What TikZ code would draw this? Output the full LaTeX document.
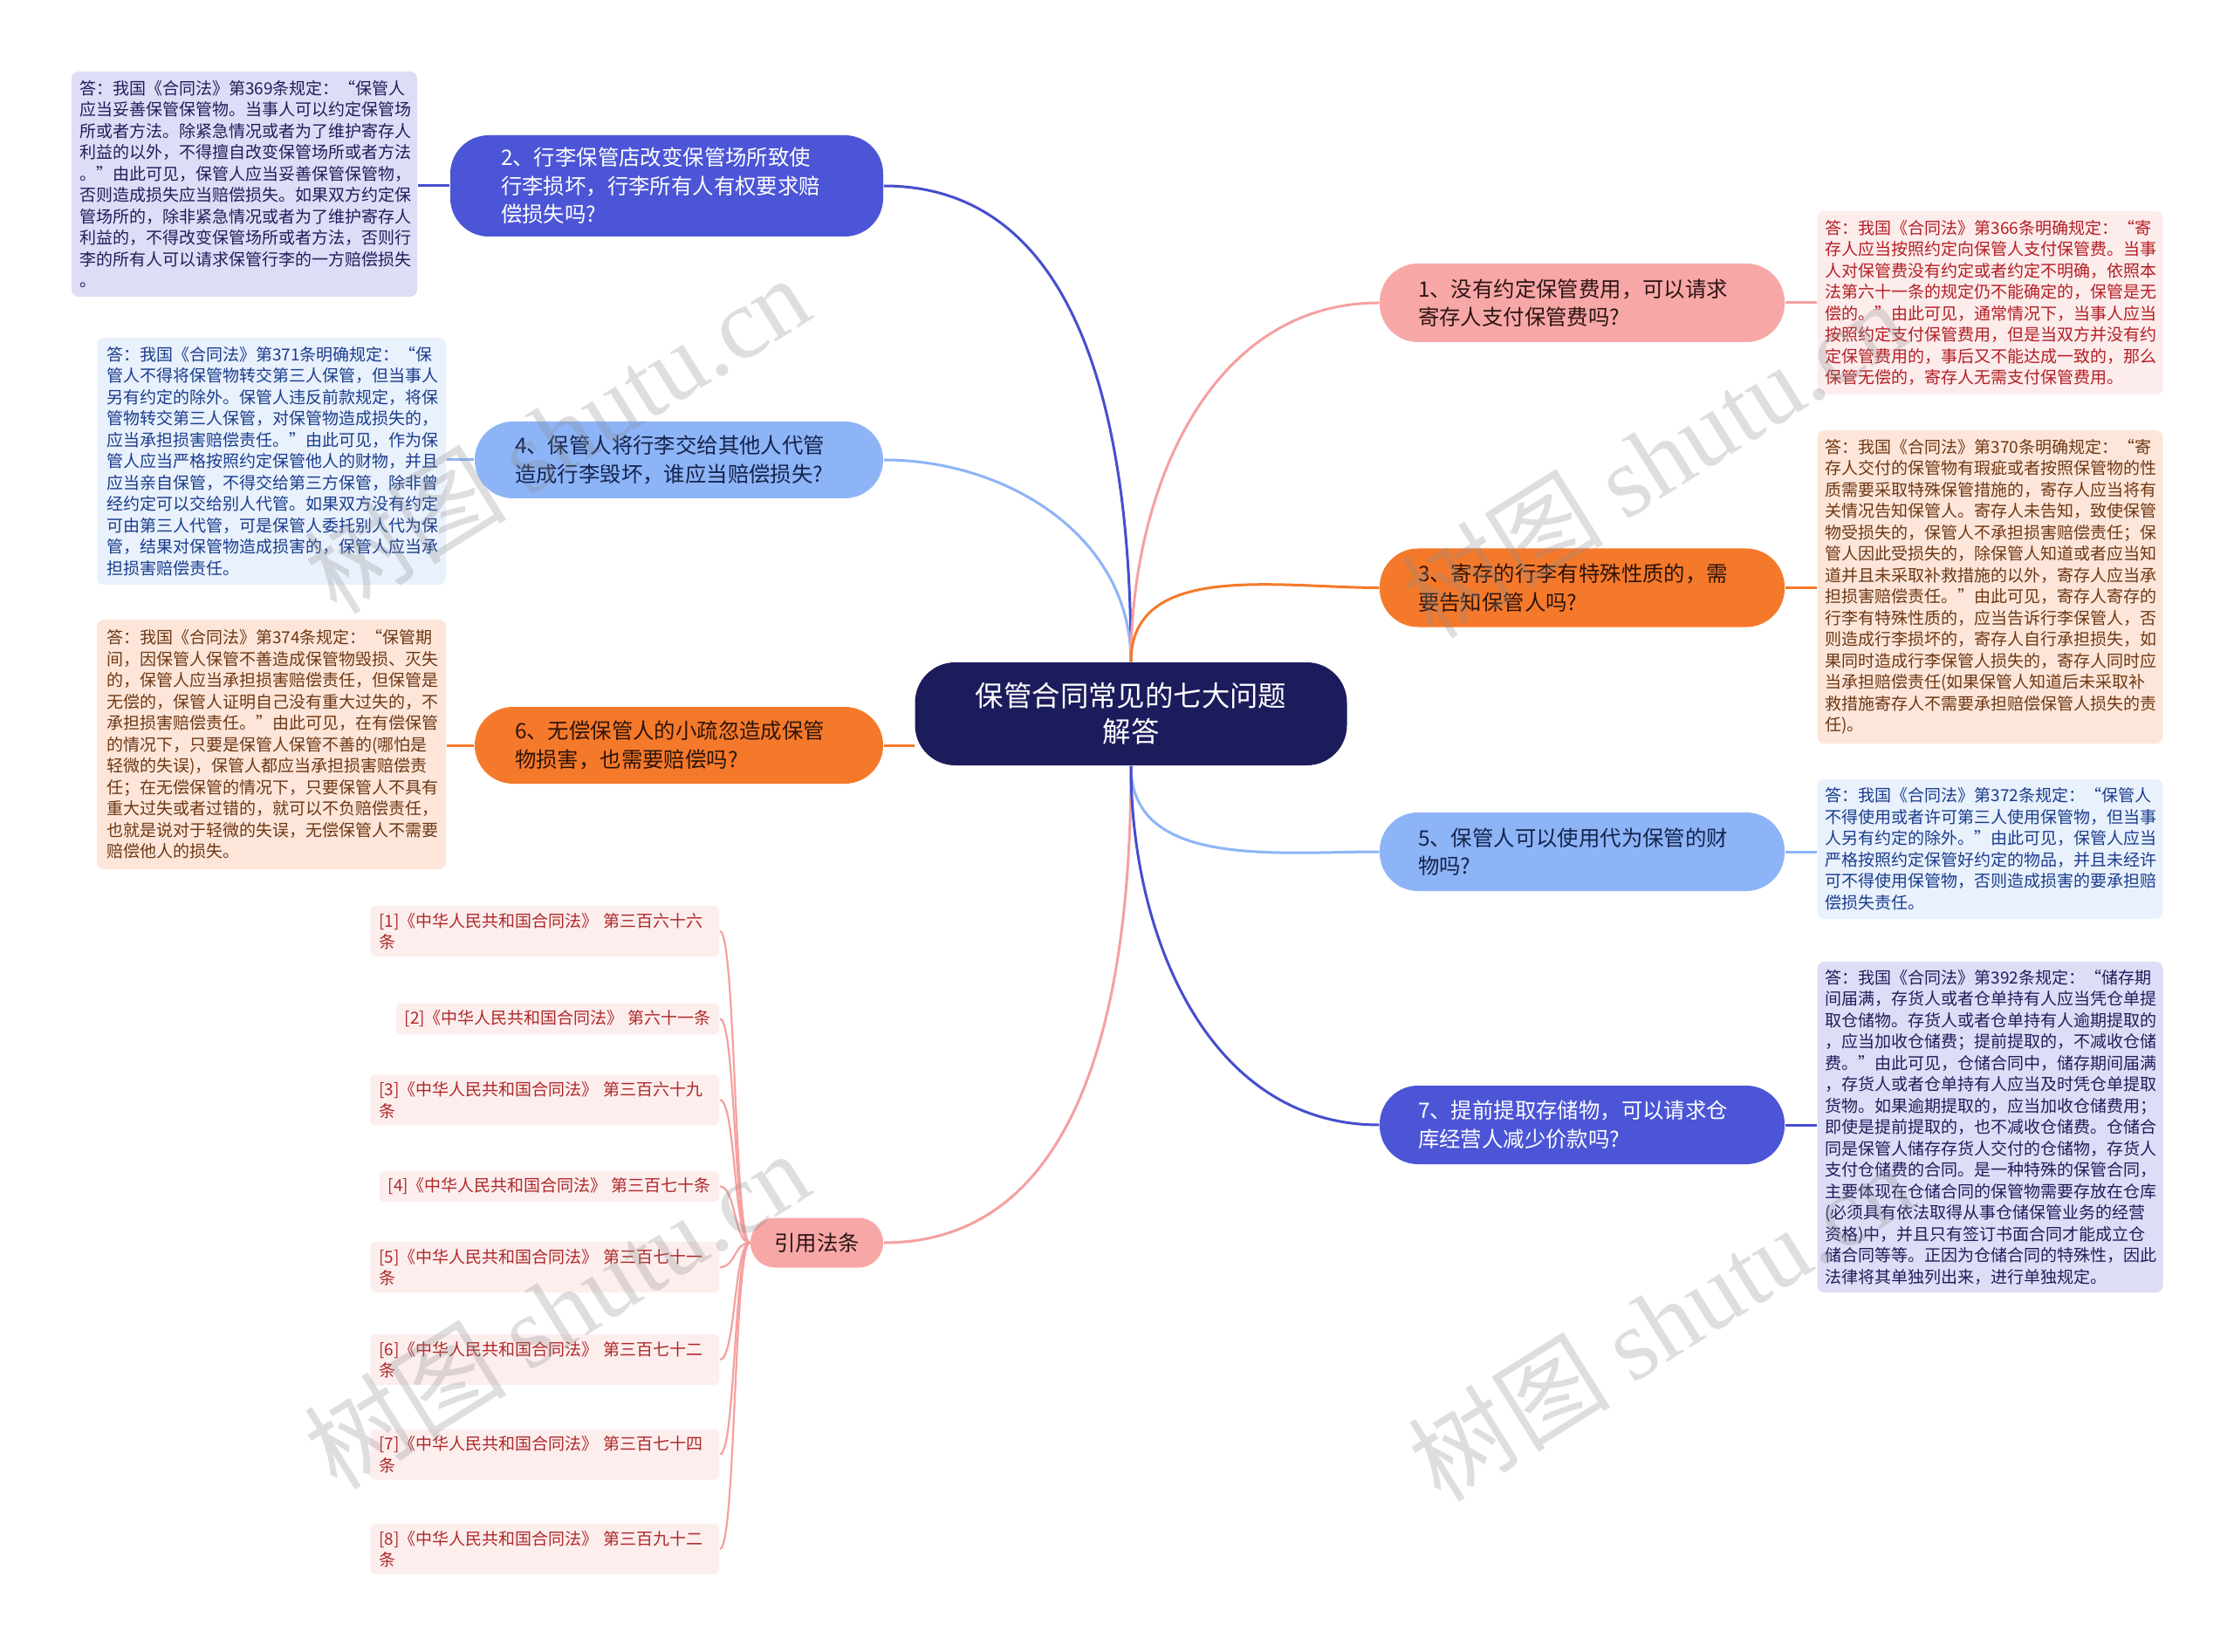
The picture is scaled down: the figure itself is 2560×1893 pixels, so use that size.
\documentclass[tikz,border=0pt]{standalone}
\usepackage{fontspec}
\setmainfont{Noto Sans CJK SC}
\newfontfamily\wmlatin{Liberation Serif}

\tikzset{every picture/.style={line width=0.75pt}}
\tikzset{
  hubnode/.style={fill={rgb, 255:red, 28; green, 28; blue, 92}, text=white, rounded corners=23pt, minimum width=247.5pt, minimum height=59pt, align=center, font=\fontsize{16.2}{20.5}\selectfont},
  branch/.style={rounded corners=22pt, minimum height=45pt, align=left, font=\fontsize{12.2}{16.3}\selectfont},
  answer/.style={rounded corners=4pt, inner xsep=4.5pt, inner ysep=3pt, text width=189pt, align=left, font=\fontsize{9.5}{12.25}\selectfont},
  citebox/.style={fill={rgb, 255:red, 253; green, 238; blue, 238}, text={rgb, 255:red, 175; green, 40; blue, 40}, rounded corners=3pt, inner xsep=5pt, inner ysep=4pt, anchor=east, align=left, font=\fontsize{9.5}{12.25}\selectfont},
  navyfill/.style={fill={rgb, 255:red, 75; green, 85; blue, 214}, text=white},
  bluefill/.style={fill={rgb, 255:red, 141; green, 180; blue, 247}, text={rgb, 255:red, 20; green, 35; blue, 75}},
  orangefill/.style={fill={rgb, 255:red, 245; green, 121; blue, 43}, text={rgb, 255:red, 45; green, 20; blue, 10}},
  pinkfill/.style={fill={rgb, 255:red, 248; green, 167; blue, 167}, text={rgb, 255:red, 45; green, 20; blue, 20}},
  navybox/.style={fill={rgb, 255:red, 221; green, 221; blue, 247}, text={rgb, 255:red, 30; green, 30; blue, 90}},
  bluebox/.style={fill={rgb, 255:red, 233; green, 241; blue, 253}, text={rgb, 255:red, 25; green, 60; blue, 140}},
  orangebox/.style={fill={rgb, 255:red, 253; green, 230; blue, 217}, text={rgb, 255:red, 110; green, 55; blue, 20}},
  pinkbox/.style={fill={rgb, 255:red, 253; green, 236; blue, 236}, text={rgb, 255:red, 180; green, 30; blue, 35}},
  navyline/.style={draw={rgb, 255:red, 70; green, 78; blue, 205}, line width=1.5pt},
  blueline/.style={draw={rgb, 255:red, 141; green, 180; blue, 247}, line width=1.5pt},
  orangeline/.style={draw={rgb, 255:red, 245; green, 121; blue, 43}, line width=1.5pt},
  pinkline/.style={draw={rgb, 255:red, 245; green, 160; blue, 160}, line width=1.5pt},
  citeline/.style={draw={rgb, 255:red, 245; green, 160; blue, 160}, line width=1.1pt},
  wmtext/.style={text={rgb, 255:red, 140; green, 140; blue, 140}, text opacity=0.28, rotate=32, font=\fontsize{58}{58}\selectfont}
}

\begin{document}
\begin{tikzpicture}[x=0.5pt,y=0.5pt,yscale=-1,xscale=1]
	%set diagram to 2560 x 1893
	\fill[white] (0,0) rectangle (2560,1893);
	\useasboundingbox (0,0) rectangle (2560,1893);

	% Text Node
	\node[hubnode] (hub) at (1296,818) {保管合同常见的七大问题\\解答};

	% Text Node
	\node[branch, navyfill, minimum height=58pt, inner xsep=29pt, text width=190pt] (b2) at (764,213) {2、行李保管店改变保管场所致使\\行李损坏，行李所有人有权要求赔\\偿损失吗?};
	% Text Node
	\node[branch, bluefill, minimum height=44pt, inner xsep=23pt, text width=188pt] (b4) at (778,527) {4、保管人将行李交给其他人代管\\造成行李毁坏，谁应当赔偿损失?};
	% Text Node
	\node[branch, orangefill, minimum height=44pt, inner xsep=23pt, text width=188pt] (b6) at (778,854) {6、无偿保管人的小疏忽造成保管\\物损害，也需要赔偿吗?};
	% Text Node
	\node[branch, pinkfill, rounded corners=14pt, minimum width=76pt, minimum height=28.5pt, align=center] (ref) at (936,1424) {引用法条};
	% Text Node
	\node[branch, pinkfill, inner xsep=22pt, text width=188pt] (b1) at (1813,347) {1、没有约定保管费用，可以请求\\寄存人支付保管费吗?};
	% Text Node
	\node[branch, orangefill, inner xsep=22pt, text width=188pt] (b3) at (1813,673.5) {3、寄存的行李有特殊性质的，需\\要告知保管人吗?};
	% Text Node
	\node[branch, bluefill, inner xsep=22pt, text width=188pt] (b5) at (1813,976) {5、保管人可以使用代为保管的财\\物吗?};
	% Text Node
	\node[branch, navyfill, inner xsep=22pt, text width=188pt] (b7) at (1813,1289) {7、提前提取存储物，可以请求仓\\库经营人减少价款吗?};

	% Text Node
	\node[answer, navybox, text width=189pt, minimum height=129pt] (a2) at (280,211) {答：我国《合同法》第369条规定：“保管人\\应当妥善保管保管物。当事人可以约定保管场\\所或者方法。除紧急情况或者为了维护寄存人\\利益的以外，不得擅自改变保管场所或者方法\\。”由此可见，保管人应当妥善保管保管物，\\否则造成损失应当赔偿损失。如果双方约定保\\管场所的，除非紧急情况或者为了维护寄存人\\利益的，不得改变保管场所或者方法，否则行\\李的所有人可以请求保管行李的一方赔偿损失\\。};
	% Text Node
	\node[answer, bluebox, inner xsep=5.5pt, minimum height=141.5pt] (a4) at (311,528.5) {答：我国《合同法》第371条明确规定：“保\\管人不得将保管物转交第三人保管，但当事人\\另有约定的除外。保管人违反前款规定，将保\\管物转交第三人保管，对保管物造成损失的，\\应当承担损害赔偿责任。”由此可见，作为保\\管人应当严格按照约定保管他人的财物，并且\\应当亲自保管，不得交给第三方保管，除非曾\\经约定可以交给别人代管。如果双方没有约定\\可由第三人代管，可是保管人委托别人代为保\\管，结果对保管物造成损害的，保管人应当承\\担损害赔偿责任。};
	% Text Node
	\node[answer, orangebox, inner xsep=5.5pt, minimum height=143pt] (a6) at (311,853) {答：我国《合同法》第374条规定：“保管期\\间，因保管人保管不善造成保管物毁损、灭失\\的，保管人应当承担损害赔偿责任，但保管是\\无偿的，保管人证明自己没有重大过失的，不\\承担损害赔偿责任。”由此可见，在有偿保管\\的情况下，只要是保管人保管不善的(哪怕是\\轻微的失误)，保管人都应当承担损害赔偿责\\任；在无偿保管的情况下，只要保管人不具有\\重大过失或者过错的，就可以不负赔偿责任，\\也就是说对于轻微的失误，无偿保管人不需要\\赔偿他人的损失。};
	% Text Node
	\node[answer, pinkbox, minimum height=105pt] (a1) at (2280.5,347) {答：我国《合同法》第366条明确规定：“寄\\存人应当按照约定向保管人支付保管费。当事\\人对保管费没有约定或者约定不明确，依照本\\法第六十一条的规定仍不能确定的，保管是无\\偿的。”由此可见，通常情况下，当事人应当\\按照约定支付保管费用，但是当双方并没有约\\定保管费用的，事后又不能达成一致的，那么\\保管无偿的，寄存人无需支付保管费用。};
	% Text Node
	\node[answer, orangebox, minimum height=179.5pt] (a3) at (2280.5,672.5) {答：我国《合同法》第370条明确规定：“寄\\存人交付的保管物有瑕疵或者按照保管物的性\\质需要采取特殊保管措施的，寄存人应当将有\\关情况告知保管人。寄存人未告知，致使保管\\物受损失的，保管人不承担损害赔偿责任；保\\管人因此受损失的，除保管人知道或者应当知\\道并且未采取补救措施的以外，寄存人应当承\\担损害赔偿责任。”由此可见，寄存人寄存的\\行李有特殊性质的，应当告诉行李保管人，否\\则造成行李损坏的，寄存人自行承担损失，如\\果同时造成行李保管人损失的，寄存人同时应\\当承担赔偿责任(如果保管人知道后未采取补\\救措施寄存人不需要承担赔偿保管人损失的责\\任)。};
	% Text Node
	\node[answer, bluebox, minimum height=80pt] (a5) at (2280.5,973) {答：我国《合同法》第372条规定：“保管人\\不得使用或者许可第三人使用保管物，但当事\\人另有约定的除外。”由此可见，保管人应当\\严格按照约定保管好约定的物品，并且未经许\\可不得使用保管物，否则造成损害的要承担赔\\偿损失责任。};
	% Text Node
	\node[answer, navybox, minimum height=189.5pt] (a7) at (2280.5,1291.5) {答：我国《合同法》第392条规定：“储存期\\间届满，存货人或者仓单持有人应当凭仓单提\\取仓储物。存货人或者仓单持有人逾期提取的\\，应当加收仓储费；提前提取的，不减收仓储\\费。”由此可见，仓储合同中，储存期间届满\\，存货人或者仓单持有人应当及时凭仓单提取\\货物。如果逾期提取的，应当加收仓储费用；\\即使是提前提取的，也不减收仓储费。仓储合\\同是保管人储存存货人交付的仓储物，存货人\\支付仓储费的合同。是一种特殊的保管合同，\\主要体现在仓储合同的保管物需要存放在仓库\\(必须具有依法取得从事仓储保管业务的经营\\资格)中，并且只有签订书面合同才能成立仓\\储合同等等。正因为仓储合同的特殊性，因此\\法律将其单独列出来，进行单独规定。};

	% Text Node
	\node[citebox, text width=190pt] (c1) at (825,1067) {[1]《中华人民共和国合同法》 第三百六十六\\条};
	% Text Node
	\node[citebox] (c2) at (825,1167.5) {[2]《中华人民共和国合同法》 第六十一条};
	% Text Node
	\node[citebox, text width=190pt] (c3) at (825,1260.5) {[3]《中华人民共和国合同法》 第三百六十九\\条};
	% Text Node
	\node[citebox] (c4) at (825,1359.5) {[4]《中华人民共和国合同法》 第三百七十条};
	% Text Node
	\node[citebox, text width=190pt] (c5) at (825,1452) {[5]《中华人民共和国合同法》 第三百七十一\\条};
	% Text Node
	\node[citebox, text width=190pt] (c6) at (825,1558) {[6]《中华人民共和国合同法》 第三百七十二\\条};
	% Text Node
	\node[citebox, text width=190pt] (c7) at (825,1666.5) {[7]《中华人民共和国合同法》 第三百七十四\\条};
	% Text Node
	\node[citebox, text width=190pt] (c8) at (825,1775) {[8]《中华人民共和国合同法》 第三百九十二\\条};

	%Curves from the hub (yscale=-1: 270 points up, 90 points down)
	\draw[navyline] (hub.north) to[out=270,in=0] (b2.east);
	\draw[blueline] (hub.north) to[out=270,in=0] (b4.east);
	\draw[orangeline] (b6.east) -- (b6.east -| hub.west);
	\draw[pinkline] (hub.south) to[out=90,in=0] (ref.east);
	\draw[pinkline] (hub.north) to[out=270,in=180] (b1.west);
	\draw[orangeline] (hub.north) to[out=270,in=180] (b3.west);
	\draw[blueline] (hub.south) to[out=90,in=180] (b5.west);
	\draw[navyline] (hub.south) to[out=90,in=180] (b7.west);

	%Straight Lines to the answers
	\draw[navyline] (b2.west) -- (b2.west -| a2.east);
	\draw[blueline] (b4.west) -- (b4.west -| a4.east);
	\draw[orangeline] (b6.west) -- (b6.west -| a6.east);
	\draw[pinkline] (b1.east) -- (b1.east -| a1.west);
	\draw[orangeline] (b3.east) -- (b3.east -| a3.west);
	\draw[blueline] (b5.east) -- (b5.east -| a5.west);
	\draw[navyline] (b7.east) -- (b7.east -| a7.west);

	%Curves to the citations
	\draw[citeline] (ref.west) to[out=180,in=0,distance=9pt] (c1.east);
	\draw[citeline] (ref.west) to[out=180,in=0,distance=9pt] (c2.east);
	\draw[citeline] (ref.west) to[out=180,in=0,distance=9pt] (c3.east);
	\draw[citeline] (ref.west) to[out=180,in=0,distance=9pt] (c4.east);
	\draw[citeline] (ref.west) to[out=180,in=0,distance=9pt] (c5.east);
	\draw[citeline] (ref.west) to[out=180,in=0,distance=9pt] (c6.east);
	\draw[citeline] (ref.west) to[out=180,in=0,distance=9pt] (c7.east);
	\draw[citeline] (ref.west) to[out=180,in=0,distance=9pt] (c8.east);

	% Watermarks
	\node[wmtext] (w1) at (638,497) {树图 {\wmlatin shutu.cn}};
	\node[wmtext] (w2) at (1895,525) {树图 {\wmlatin shutu.cn}};
	\node[wmtext] (w3) at (638,1500) {树图 {\wmlatin shutu.cn}};
	\node[wmtext] (w4) at (1903,1514) {树图 {\wmlatin shutu.cn}};

\end{tikzpicture}
\end{document}
